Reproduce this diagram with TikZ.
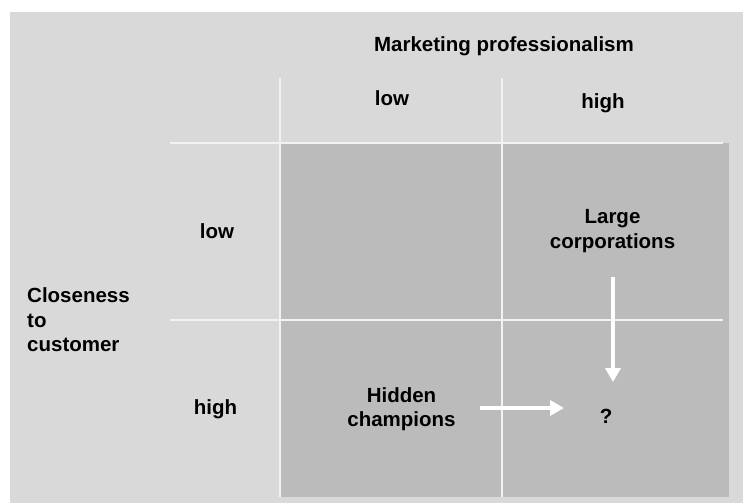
\documentclass[tikz,border=0pt]{standalone}
\usepackage{fontspec}
\setmainfont{Liberation Sans}
\usetikzlibrary{arrows.meta}
\definecolor{panel}{HTML}{D9D9D9}
\definecolor{field}{HTML}{BBBBBB}
\definecolor{rule}{HTML}{F2F2F2}
\tikzset{
  lbl/.style={font=\bfseries\fontsize{20.5}{24.5}\selectfont, text=black, inner sep=0pt, anchor=base},
  gridline/.style={draw=rule, line width=1.6pt},
  arr/.style={draw=white, line width=4pt, -{Triangle[width=15pt,length=14pt]}}
}
\begin{document}
\begin{tikzpicture}[x=1pt,y=-1pt]
  \useasboundingbox (0,0) rectangle (743,503);
  % background panels
  \fill[white] (0,0) rectangle (743,503);
  \fill[panel] (10,12) rectangle (743,503);
  \fill[field] (280,143) rectangle (729,497);
  % grid lines
  \draw[gridline] (170,143) -- (723,143);
  \draw[gridline] (170,320) -- (723,320);
  \draw[gridline] (280,78) -- (280,497);
  \draw[gridline] (502,78) -- (502,497);
  % headings
  \node[lbl] (mp) at (504,52) {Marketing professionalism};
  \node[lbl] (clow) at (392,105) {low};
  \node[lbl] (chigh) at (603,108) {high};
  \node[lbl] (rlow) at (217,238) {low};
  \node[lbl] (rhigh) at (215.5,414) {high};
  % multi-line labels: base anchor sits on the last line
  \node[lbl, anchor=base west, align=left] (cc) at (27,351.5) {Closeness\\to\\customer};
  % quadrant entries
  \node[lbl, align=center] (large) at (612.5,248) {Large\\corporations};
  \node[lbl, align=center] (hidden) at (401.5,426.5) {Hidden\\champions};
  \node[lbl] (q) at (606,423) {?};
  % arrows towards the open quadrant
  \coordinate (vs) at (613,277);
  \coordinate (ve) at (613,382);
  \coordinate (hs) at (480,408);
  \coordinate (he) at (564,408);
  \draw[arr] (vs) -- (ve);
  \draw[arr] (hs) -- (he);
\end{tikzpicture}
\end{document}
